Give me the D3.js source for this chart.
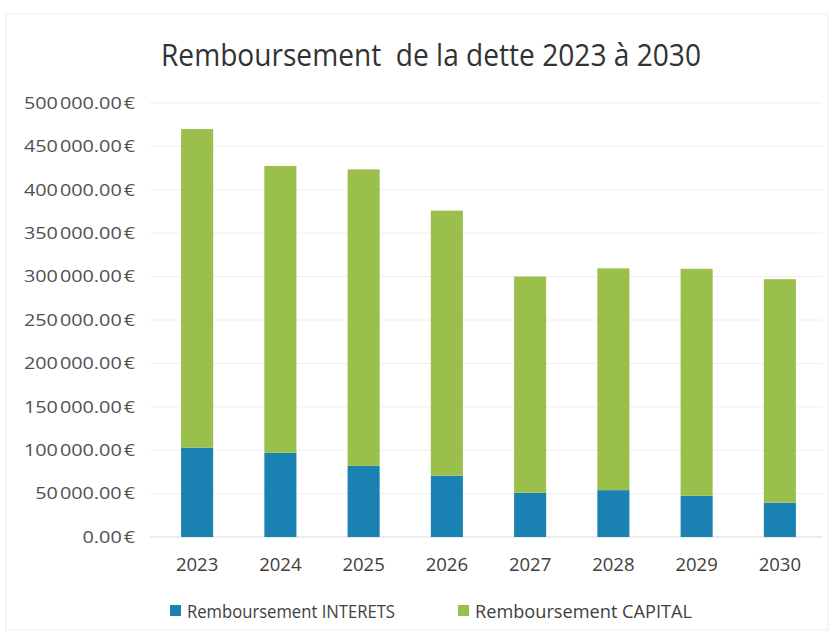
<!DOCTYPE html>
<html><head><meta charset="utf-8">
<script src="https://cdn.jsdelivr.net/npm/d3@7"></script>
<style>body{margin:0;background:#fff}</style>
</head><body>
<svg id="c" width="836" height="636"></svg>
<script>
const years = ["2023","2024","2025","2026","2027","2028","2029","2030"];
const interets = [103000, 97000, 82000, 70500, 51000, 54000, 47500, 39500];
const capital = [367000, 330500, 341500, 305500, 249000, 255500, 261500, 257500];
const yTicks = [0,50000,100000,150000,200000,250000,300000,350000,400000,450000,500000];
const seriesNames = ["Remboursement INTERETS", "Remboursement CAPITAL"];
const colors = ["#1a82b3", "#9bbf4b"];
const title = "Remboursement\u00a0 de la dette 2023 à 2030";

const svg = d3.select("#c");
const font = "'Open Sans', Calibri, sans-serif";
svg.append("rect").attr("x",6).attr("y",14).attr("width",822).attr("height",616)
  .attr("fill","#fff").attr("stroke","#ececec");

const x = d3.scaleBand().domain(years).range([155.5, 821.5]).paddingInner(0.615).paddingOuter(0.3075);
const y = d3.scaleLinear().domain([0,500000]).range([537,103]);

const fmt = v => {
  const s = d3.format(".2f")(v);
  const [i,dec] = s.split(".");
  return i.replace(/\B(?=(\d{3})+(?!\d))/g, "\u200a") + "." + dec + "\u200a€";
};

// gridlines
svg.append("g").selectAll("line").data(yTicks).join("line")
  .attr("x1",150).attr("x2",822).attr("y1",d=>y(d)).attr("y2",d=>y(d))
  .attr("stroke", d=> d===0 ? "#d9d9d9" : "#eeeeee").attr("stroke-width",1);

const yAxis = d3.axisLeft(y).tickValues(yTicks).tickFormat(fmt).tickSize(0).tickPadding(0);
const gy = svg.append("g").attr("transform","translate(135,0)").call(yAxis);
gy.select(".domain").remove();
gy.selectAll("text").attr("font-family",font).attr("font-size",16.5).attr("fill","#505050")
  .attr("transform","scale(1.2,1)");

const xAxis = d3.axisBottom(x).tickSize(0).tickPadding(0);
const gx = svg.append("g").attr("transform","translate(0,558)").call(xAxis);
gx.select(".domain").remove();
gx.selectAll("text").attr("font-family",font).attr("font-size",18.5).attr("fill","#404040").attr("dy","0.71em");

const stackData = years.map((yr,i)=>({year:yr, interets:interets[i], capital:capital[i]}));
const stack = d3.stack().keys(["interets","capital"])(stackData);
svg.append("g").selectAll("g").data(stack).join("g").attr("fill",(d,i)=>colors[i])
  .selectAll("rect").data(d=>d).join("rect")
  .attr("x",d=>x(d.data.year)).attr("width",x.bandwidth())
  .attr("y",d=>y(d[1])).attr("height",d=>y(d[0])-y(d[1]));

svg.append("text").attr("x",161).attr("y",66)
  .attr("textLength",540).attr("lengthAdjust","spacingAndGlyphs")
  .attr("font-family",font).attr("font-size",31).attr("fill","#333333").text(title);

const legX = [170, 458];
const legW = [208, 217];
const lg = svg.append("g").selectAll("g").data(seriesNames).join("g")
  .attr("transform",(d,i)=>`translate(${legX[i]},605)`);
lg.append("rect").attr("width",11).attr("height",11).attr("fill",(d,i)=>colors[i]);
lg.append("text").attr("x",17).attr("y",13.3)
  .attr("textLength",(d,i)=>legW[i]).attr("lengthAdjust","spacingAndGlyphs")
  .attr("font-family",font).attr("font-size",18).attr("fill","#404040").text(d=>d);
</script>
</body></html>
